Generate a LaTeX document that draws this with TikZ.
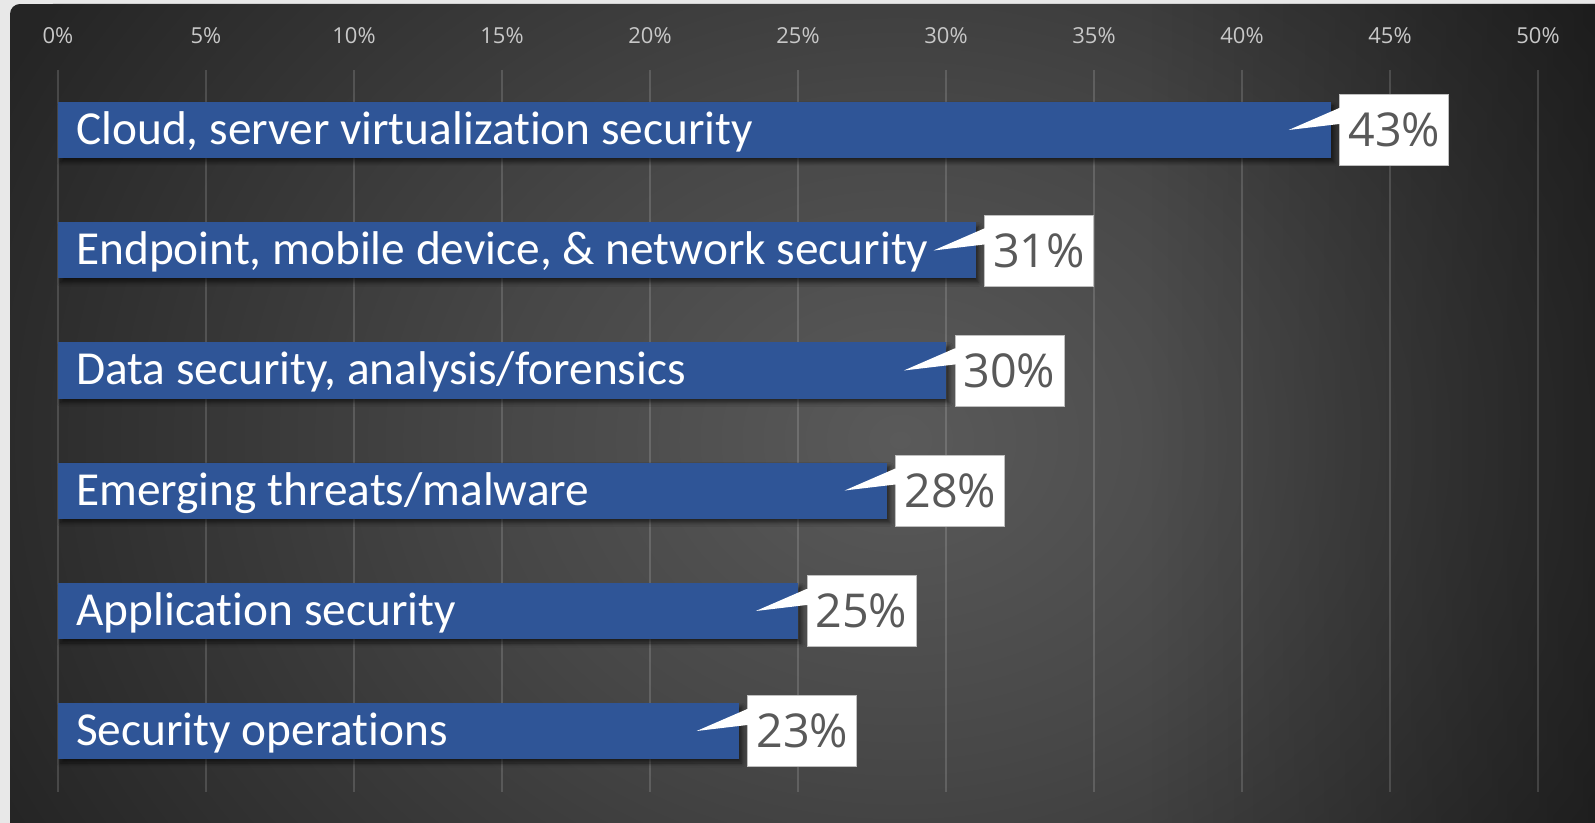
\documentclass[tikz,border=0pt]{standalone}
\usepackage{fontspec}
\setmainfont{Carlito}[Ligatures={NoCommon}]
\newfontfamily\axisfont{Open Sans}
\usetikzlibrary{shadows.blur,fadings}
\definecolor{pagebg}{HTML}{E8E8E8}
\definecolor{glowin}{HTML}{5A5A5A}
\definecolor{glowmid}{HTML}{474747}
\definecolor{glowout}{HTML}{252525}
\definecolor{barblue}{HTML}{2F5597}
\definecolor{axistext}{HTML}{C8C8C8}
\definecolor{valtext}{HTML}{595959}
\definecolor{boxline}{HTML}{BFBFBF}
\pgfdeclareradialshading{panelglow}{\pgfpoint{0bp}{0bp}}{color(0bp)=(glowin); color(10bp)=(glowmid); color(25bp)=(glowout); color(50bp)=(glowout)}
\tikzset{
  gridline/.style={draw=white, draw opacity=0.15, line width=1.5pt},
  axislabel/.style={font=\axisfont\fontsize{16.5pt}{18pt}\selectfont, text=axistext, inner sep=0pt},
  barbox/.style={fill=barblue, inner sep=0pt, minimum height=42pt, anchor=west,
    blur shadow={shadow xshift=2pt, shadow yshift=-3pt, shadow blur radius=3pt, shadow blur steps=6, shadow opacity=60}},
  barlabel/.style={font=\fontsize{35.5pt}{40pt}\selectfont, text=white, inner sep=0pt, anchor=base west},
  valbox/.style={fill=white, draw=boxline, line width=0.6pt, minimum width=81.75pt, minimum height=53.25pt,
    inner sep=0pt, anchor=west, font=\axisfont\fontsize{35pt}{40pt}\selectfont, text=valtext},
  wedge/.style={fill=white}
}
\begin{document}
\begin{tikzpicture}[x=0.75pt, y=-0.75pt]
\useasboundingbox (0,0) rectangle (1595,823);
\fill[pagebg] (0,0) rectangle (1595,823);
\begin{scope}
  \clip[rounded corners=7.5pt] (10,4) rectangle (1610,840);
  \fill[glowout] (10,4) rectangle (1610,840);
  \shade[shading=panelglow] (900,440) ellipse[x radius=1000, y radius=820];
  \fill[black, path fading=west, fill opacity=0.35] (1150,0) rectangle (1600,830);
\end{scope}
% grid and axis labels
\foreach \i in {0,...,10} {
  \pgfmathsetmacro{\xx}{58+148*\i}
  \pgfmathtruncatemacro{\pp}{5*\i}
  \coordinate (gt\i) at (\xx,70);
  \coordinate (gb\i) at (\xx,792);
  \draw[gridline] (gt\i) -- (gb\i);
  \node[axislabel] (ax\i) at (\xx,36) {\pp\%};
}
% bars
\foreach \v/\yy/\txt [count=\k] in {
  43/130/{Cloud, server virtualization security},
  31/250.5/{Endpoint, mobile device, \& network security},
  30/370.5/{Data security, analysis/forensics},
  28/490.5/{Emerging threats/malware},
  25/611/{Application security},
  23/731/{Security operations}} {
  \pgfmathsetmacro{\ww}{29.6*\v*0.75}
  \pgfmathsetmacro{\xe}{58+29.6*\v}
  \node[barbox, minimum width=\ww pt] (bar\k) at (58,\yy) {};
  \node[barlabel] (lab\k) at (76,\yy+14.5) {\txt};
  \node[valbox] (val\k) at (\xe+8.5,\yy) {\v\%};
  \coordinate (tip\k) at ([xshift=-38pt]val\k.west);
  \fill[wedge] ([yshift=16.5pt]val\k.west) -- (tip\k) -- ([yshift=4.5pt]val\k.west) -- ([xshift=1pt,yshift=4.5pt]val\k.west) -- ([xshift=1pt,yshift=16.5pt]val\k.west) -- cycle;
}
\end{tikzpicture}
\end{document}
